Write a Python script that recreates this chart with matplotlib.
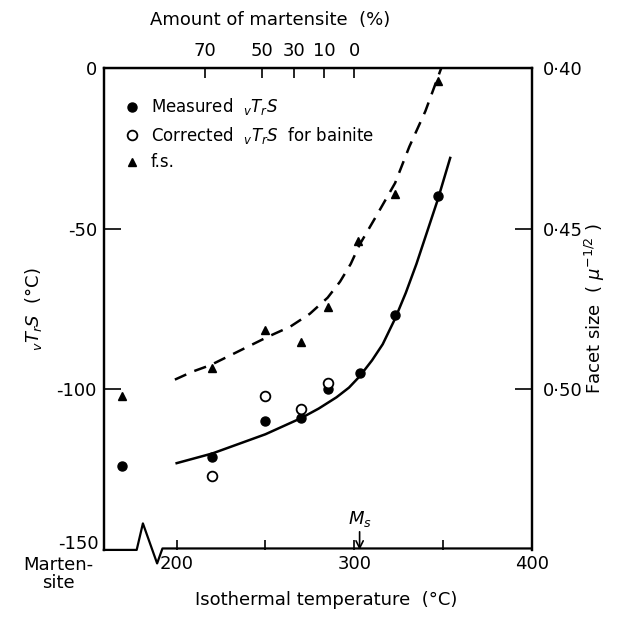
import matplotlib
matplotlib.use("Agg")
import matplotlib.pyplot as plt
from matplotlib.lines import Line2D
import matplotlib.transforms as mtransforms

plt.rcParams['font.family'] = ['DejaVu Sans']
plt.rcParams['mathtext.fontset'] = 'dejavusans'

# ---------------- data ----------------
MART_X = 169  # plotting position of the "Martensite" column (left of the axis break)

meas_T = [220, 250, 270, 285, 303, 323, 347]
meas_v = [-121, -110, -109, -100, -95, -77, -40]
meas_mart = -124

corr_T = [220, 250, 270, 285]
corr_v = [-127, -102, -106, -98]

fs_T = [220, 250, 270, 285, 302, 323, 347]
fs_v = [0.4935, 0.4815, 0.4854, 0.4745, 0.4540, 0.4393, 0.4040]
fs_mart = 0.502

solid_T = [200, 210, 220, 235, 250, 260, 270, 280, 290, 297, 303, 310, 316, 323, 329, 335, 341, 347, 354]
solid_v = [-123, -121.5, -120, -117, -114, -111.5, -109, -106, -102.5, -99.5, -96, -91, -86, -78, -70, -61, -51, -41, -28]

dash_T = [199, 209, 219, 230, 241, 252, 264, 275, 285, 292, 298, 303, 313, 323, 331, 340, 349]
dash_f = [0.497, 0.4945, 0.4925, 0.4895, 0.4865, 0.4835, 0.4805, 0.4765, 0.4715, 0.4665, 0.461, 0.455, 0.4455, 0.4358, 0.4245, 0.4135, 0.400]

mart_pct = [70, 50, 30, 10, 0]
mart_pct_T = [216, 248, 266, 283, 300]

x_ticks_major = [200, 300, 400]
x_ticks_minor = [250, 350]
y_ticks = [0, -50, -100, -150]
y_labels = ['0', '-50', '-100', '']
f_ticks = [0.40, 0.45, 0.50]
f_labels = ['0·40', '0·45', '0·50']

# ---------------- figure ----------------
fig = plt.figure(figsize=(6.37, 6.35), dpi=100)
ax = fig.add_axes([0.163, 0.134, 0.672, 0.759])
ax.set_xlim(159, 400)
ax.set_ylim(-150, 0)

ax2 = ax.twinx()
ax2.set_ylim(0.55, 0.40)

FS = 13
# solid curve and measured/corrected points
ax.plot(solid_T, solid_v, color='black', lw=1.8, zorder=2)
ax.plot(meas_T + [MART_X], meas_v + [meas_mart], 'o', color='black', ms=6.5, zorder=3)
ax.plot(corr_T, corr_v, 'o', mfc='white', mec='black', mew=1.3, ms=7, zorder=4)

# facet size (dashed) on the right axis
ax2.plot(dash_T, dash_f, color='black', lw=1.8, dashes=(5, 3.5), zorder=2)
ax2.plot(fs_T + [MART_X], fs_v + [fs_mart], '^', color='black', ms=6, zorder=3)

# ---- spines & ticks ----
for a in (ax, ax2):
    a.spines['bottom'].set_visible(False)
    for s in ('left', 'right', 'top'):
        a.spines[s].set_linewidth(1.6)

ax.set_xticks(x_ticks_major)
ax.set_xticks(x_ticks_minor, minor=True)
ax.set_xticklabels([str(t) for t in x_ticks_major])
ax.tick_params(axis='x', which='both', direction='in', length=7, width=1.2,
               labelsize=FS, pad=4)
ax.set_yticks(y_ticks)
ax.set_yticklabels(y_labels)
ax.tick_params(axis='y', direction='in', length=12, width=1.2, labelsize=FS, pad=5)
ax.text(-0.012, 0.012, '-150', fontsize=FS, ha='right', va='center',
        transform=ax.transAxes)

ax2.set_yticks(f_ticks)
ax2.set_yticklabels(f_labels)
ax2.tick_params(axis='y', direction='in', length=12, width=1.2, labelsize=FS, pad=8)

# top axis: amount of martensite
axt = ax.secondary_xaxis('top')
axt.set_xticks(mart_pct_T)
axt.set_xticklabels([str(p) for p in mart_pct])
axt.tick_params(direction='in', length=7, width=1.2, labelsize=FS, pad=6)
fig.text(0.424, 0.968, 'Amount of martensite  (%)', fontsize=FS, ha='center', va='center')

# bottom axis line with break
trans = mtransforms.blended_transform_factory(ax.transData, ax.transAxes)
bx = [159, 177.5, 181, 189, 192, 400]
by = [0, 0, 0.055, -0.028, 0.003, 0.003]
ax.add_line(Line2D(bx, by, transform=trans, color='black', lw=1.6, clip_on=False))

# labels
ax.set_xlabel('Isothermal temperature  (°C)', fontsize=FS)
ax.xaxis.set_label_coords(0.52, -0.085)
ax.set_ylabel(r'$_{v}T_{r}S$  (°C)', fontsize=FS)
ax.yaxis.set_label_coords(-0.14, 0.5)
ax2.set_ylabel(r'Facet size  ( $\mu^{-1/2}$ )', fontsize=FS, labelpad=0)

ax.text(-0.107, -0.012, 'Marten-\nsite', fontsize=FS, ha='center', va='top',
        linespacing=1.0, transform=ax.transAxes)

# Ms marker
ax.annotate(r'$M_s$', xy=(303, -150), xytext=(303, -143.5), fontsize=FS,
            ha='center', va='bottom',
            arrowprops=dict(arrowstyle='->', color='black', lw=1.2,
                            shrinkA=0, shrinkB=0))

# legend
h1 = Line2D([], [], marker='o', color='black', ls='none', ms=6.5)
h2 = Line2D([], [], marker='o', mfc='white', mec='black', mew=1.3, ls='none', ms=7)
h3 = Line2D([], [], marker='^', color='black', ls='none', ms=6)
ax.legend([h1, h2, h3],
          [r'Measured  $_{v}T_{r}S$', r'Corrected  $_{v}T_{r}S$  for bainite', 'f.s.'],
          loc='upper left', bbox_to_anchor=(0.012, 0.972), frameon=False,
          fontsize=12, handletextpad=0.6, labelspacing=0.45, handlelength=1.0)

fig.savefig('out.png', dpi=100)
